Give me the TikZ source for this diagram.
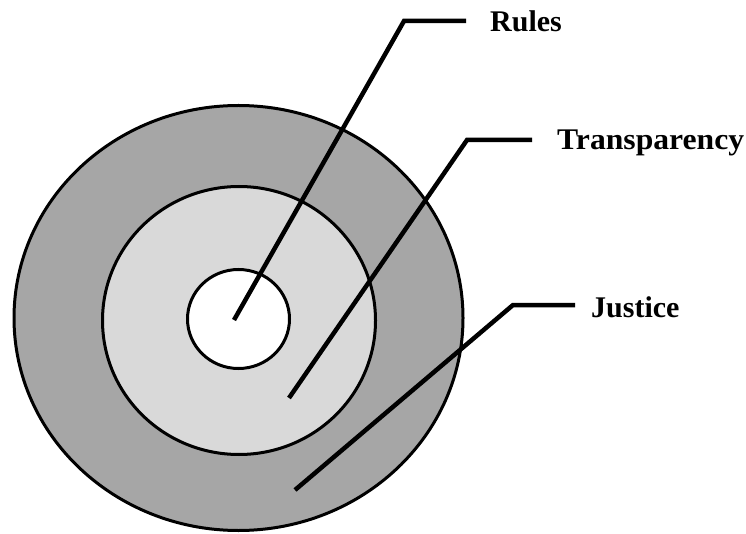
\documentclass[tikz,border=0pt]{standalone}
\usepackage{fontspec}
\setmainfont{Liberation Serif}
\usetikzlibrary{shapes.geometric}
\definecolor{ringdark}{RGB}{166,166,166}
\definecolor{ringlight}{RGB}{217,217,217}
\begin{document}
\begin{tikzpicture}[x=1pt,y=-1pt,
  ring/.style={draw=black, line width=3pt, ellipse, inner sep=0pt, outer sep=0pt},
  leader/.style={draw=black, line width=4.5pt, line cap=butt, line join=miter},
  lbl/.style={font=\fontsize{30}{36}\selectfont\bfseries, anchor=base west, inner sep=0pt}]
\useasboundingbox (0,0) rectangle (746,534);
\node[ring, fill=ringdark, minimum width=449, minimum height=425] (outer) at (238.5,318) {};
\node[ring, fill=ringlight, minimum width=273, minimum height=268] (middle) at (239,320.5) {};
\node[ring, fill=white, minimum width=102, minimum height=99] (inner) at (238.5,319) {};
% leader coordinates
\coordinate (rS) at (234,320);
\coordinate (rC) at (404,21);
\coordinate (rE) at (466,21);
\coordinate (tS) at (289,398);
\coordinate (tC) at (467,140);
\coordinate (tE) at (532,140);
\coordinate (jS) at (295,490);
\coordinate (jC) at (513,305);
\coordinate (jE) at (575,305);
\draw[leader] (rS) -- (rC) -- (rE);
\draw[leader] (tS) -- (tC) -- (tE);
\draw[leader] (jS) -- (jC) -- (jE);
\node[lbl] (rules) at (490,32) {Rules};
\node[lbl] (transp) at (557,150) {\scalebox{1.055}[1]{Transparency}};
\node[lbl] (justice) at (591,317) {Justice};
\end{tikzpicture}
\end{document}
